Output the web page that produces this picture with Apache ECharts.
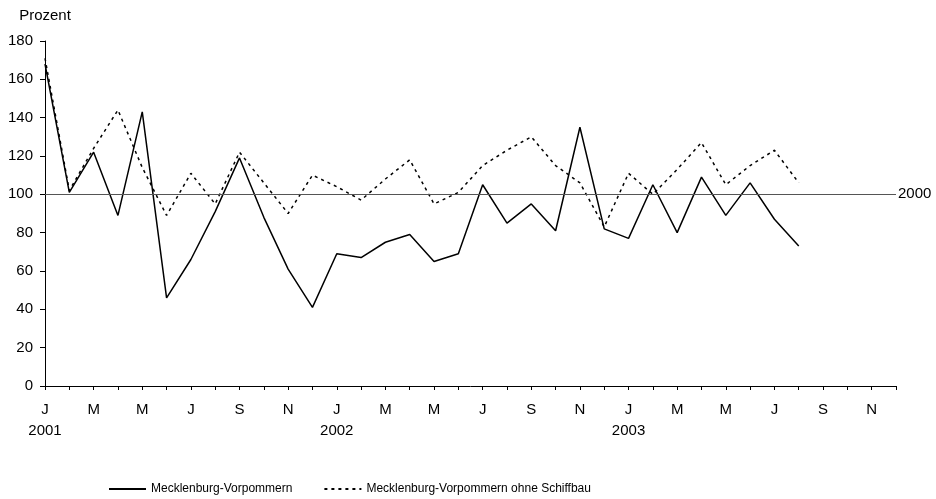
<!DOCTYPE html>
<html>
<head>
<meta charset="utf-8">
<script src="https://cdn.jsdelivr.net/npm/echarts@6/dist/echarts.min.js"></script>
<style>html,body{margin:0;padding:0;background:#fff}#c{width:936px;height:499px}</style>
</head>
<body>
<div id="c"></div>
<script>
var monthLetters = ['J','F','M','A','M','J','J','A','S','O','N','D'];
var years = ['2001','2002','2003'];
var categories = [];
years.forEach(function(y){ monthLetters.forEach(function(m, i){ categories.push(i === 0 ? m + '\n' + y : m); }); });

var mvValues = [168, 101, 122, 89, 143, 46, 66, 91, 119, 88, 61, 41,
                69, 67, 75, 79, 65, 69, 105, 85, 95, 81, 135, 82,
                77, 105, 80, 109, 89, 106, 87, 73];
var mvOhneValues = [171, 102, 124, 144, 114, 89, 111, 95, 122, 106, 90, 110,
                    104, 97, 108, 118, 95, 101, 115, 123, 130, 115, 106, 83,
                    111, 100, 113, 127, 105, 115, 123, 106];
var seriesNames = ['Mecklenburg-Vorpommern', 'Mecklenburg-Vorpommern ohne Schiffbau'];
var baseValue = 100;
var baseLabel = '2000';

var font = 'Arial, "Liberation Sans", sans-serif';
var chart = echarts.init(document.getElementById('c'));
chart.setOption({
  backgroundColor: '#fff',
  animation: false,
  textStyle: { fontFamily: font, color: '#000' },
  grid: { left: 45, right: 40, top: 41, bottom: 113 },
  legend: {
    left: 108, top: 483, padding: 0, itemWidth: 37, itemHeight: 14, itemGap: 31,
    itemStyle: { opacity: 0 },
    textStyle: { fontFamily: font, fontSize: 12, color: '#000' },
    data: seriesNames
  },
  xAxis: {
    type: 'category', boundaryGap: false, data: categories,
    axisLine: { lineStyle: { color: '#000', width: 1 } },
    axisTick: { show: true, interval: 0, length: 4, lineStyle: { color: '#000' } },
    axisLabel: { interval: 1, color: '#000', fontSize: 15, lineHeight: 21, margin: 13, fontFamily: font },
    splitLine: { show: false }
  },
  yAxis: {
    type: 'value', min: 0, max: 180, interval: 20,
    name: 'Prozent', nameLocation: 'end', nameGap: 18,
    nameTextStyle: { color: '#000', fontSize: 15, fontFamily: font },
    axisLine: { show: true, lineStyle: { color: '#000', width: 1 } },
    axisTick: { show: true, length: 5, lineStyle: { color: '#000' } },
    axisLabel: { color: '#000', fontSize: 15, margin: 12, fontFamily: font },
    splitLine: { show: false }
  },
  series: [
    {
      name: seriesNames[0], type: 'line', data: mvValues, symbol: 'none',
      lineStyle: { color: '#000', width: 1.5, type: 'solid' }, itemStyle: { color: '#000' },
      markLine: {
        silent: true, symbol: 'none',
        lineStyle: { color: '#555', width: 1.2, type: 'solid' },
        label: { show: true, position: 'end', formatter: baseLabel, color: '#000', fontSize: 15, fontFamily: font, distance: 2 },
        data: [{ yAxis: baseValue }]
      }
    },
    {
      name: seriesNames[1], type: 'line', data: mvOhneValues, symbol: 'none',
      lineStyle: { color: '#000', width: 1.5, type: [3, 4] }, itemStyle: { color: '#000' }
    }
  ]
});
</script>
</body>
</html>
